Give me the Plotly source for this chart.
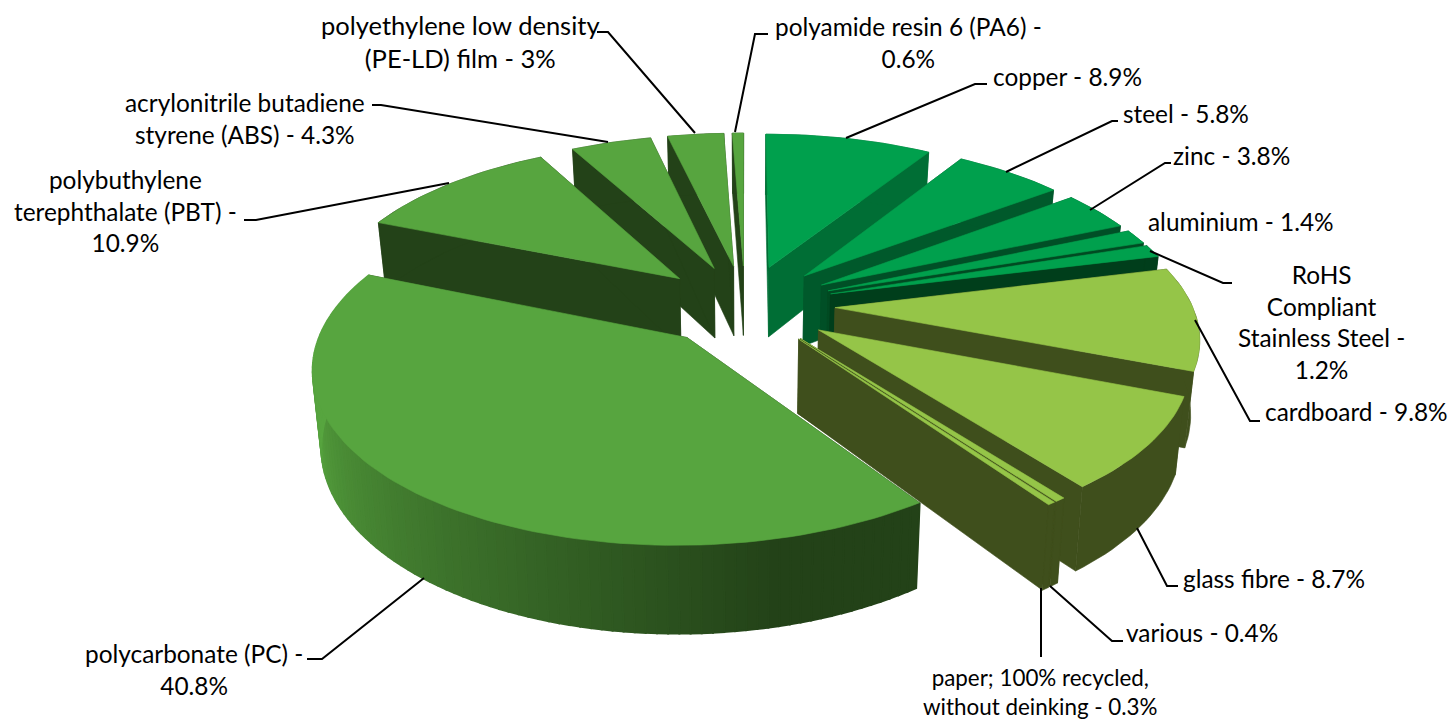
import math
import plotly.graph_objects as go

# ---- data -------------------------------------------------------------
materials = ["copper", "steel", "zinc", "aluminium", "RoHS Compliant Stainless Steel",
             "cardboard", "glass fibre", "various", "paper; 100% recycled, without deinking",
             "polycarbonate (PC)", "polybuthylene terephthalate (PBT)",
             "acrylonitrile butadiene styrene (ABS)", "polyethylene low density (PE-LD) film",
             "polyamide resin 6 (PA6)"]
shares = [8.9, 5.8, 3.8, 1.4, 1.2, 9.8, 8.7, 0.4, 0.3, 40.8, 10.9, 4.3, 3.0, 0.6]
label_texts = ["copper - 8.9%", "steel - 5.8%", "zinc - 3.8%", "aluminium - 1.4%",
               "RoHS<br>Compliant<br>Stainless Steel -<br>1.2%", "cardboard - 9.8%",
               "glass fibre - 8.7%", "various - 0.4%",
               "paper; 100% recycled,<br>without deinking - 0.3%",
               "polycarbonate (PC) -<br>40.8%", "polybuthylene<br>terephthalate (PBT) -<br>10.9%",
               "acrylonitrile butadiene<br>styrene (ABS) - 4.3%",
               "polyethylene low density<br>(PE-LD) film - 3%",
               "polyamide resin 6 (PA6) -<br>0.6%"]

# ---- styling ----------------------------------------------------------
top_colors = ["#00A04D"] * 5 + ["#95C548"] * 4 + ["#57A53F"] * 5
wall_colors = ["#006E35", "#00592B", "#004F26", "#004A22", "#003E1B"] + ["#3F4F1C"] * 4 + ["#234218"] * 5
label_pos = [(1067, 76), (1186, 113), (1231, 155), (1241, 221), (1321, 322), (1356, 411),
             (1274, 578), (1202, 632), (1040, 692), (194, 669), (125, 211), (245, 118),
             (460, 41), (908, 42)]
label_sizes = [24.4] * 8 + [22.4] + [24.4] * 3 + [25.5, 24.4]
leaders = [
    [(846, 138), (975, 84), (987, 84)],
    [(1006, 172), (1112, 121), (1118, 121)],
    [(1090, 210), (1165, 163), (1171, 163)],
    None,
    [(1150, 251), (1223, 283), (1232, 283)],
    [(1195, 320), (1250, 421), (1260, 421)],
    [(1137, 528), (1167, 586), (1178, 586)],
    [(1050, 586), (1112, 641), (1123, 641)],
    [(1041, 588), (1041, 657)],
    [(424, 578), (322, 659), (307, 659)],
    [(449, 183), (256, 220), (244, 220)],
    [(608, 142), (381, 105), (372, 105)],
    [(695, 133), (608, 32), (597, 32)],
    [(735, 132), (755, 34), (768, 34)],
]

# ---- projection of the exploded pie -----------------------------------
CX, CY, RX, RY, EXPLODE, HEIGHT, TILT, PERSP = 745, 305, 357, 366, 90, 72, 0.4496, 0.000422
CONVERGE = 0.02  # lower rim converges towards the pie's axis


def project(x, y, drop=0.0):
    s = 1 / (1 + PERSP * y)
    k = 1 - CONVERGE if drop else 1
    return CX + x * s * k, CY - TILT * y * s + drop * s


def polar(t):
    r = math.radians(t)
    return math.sin(r), math.cos(r)


fig = go.Figure()


def polygon(pts, color, seam=0.6):
    xs, ys = zip(*pts)
    fig.add_trace(go.Scatter(x=list(xs) + [xs[0]], y=list(ys) + [ys[0]], mode="lines", fill="toself",
                             fillcolor=color, line=dict(color=color, width=seam),
                             hoverinfo="skip", showlegend=False))


def mix(c1, c2, f):
    a = [int(c1[i:i + 2], 16) for i in (1, 3, 5)]
    b = [int(c2[i:i + 2], 16) for i in (1, 3, 5)]
    return "#" + "".join(f"{round(p + (q - p) * f):02X}" for p, q in zip(a, b))


total = sum(shares)
spans = []
start = 0.0
for v in shares:
    spans.append((start, start + v / total * 360))
    start += v / total * 360

draw_order = [13, 12, 11, 0, 1, 10, 2, 3, 4, 5, 6, 7, 8, 9]
for i in draw_order:
    t0, t1 = spans[i]
    mid = (t0 + t1) / 2
    ux, uy = polar(mid)
    ox, oy = ux * EXPLODE, uy * EXPLODE
    n = max(3, int((t1 - t0) / 1.5))
    rim = [(ox + RX * polar(t0 + (t1 - t0) * k / n)[0], oy + RY * polar(t0 + (t1 - t0) * k / n)[1])
           for k in range(n + 1)]
    apex_top = project(ox, oy)
    apex_low = project(ox, oy, HEIGHT)
    wall = wall_colors[i]
    for p in (rim[0], rim[-1]):
        polygon([apex_top, project(*p), project(*p, HEIGHT), apex_low], wall)
    # the outer wall is a single shape unless it carries a gradient
    if i == 9:
        for k in range(n):
            a, b = rim[k], rim[k + 1]
            f = max(0.0, min(1.0, (262 - (t0 + (t1 - t0) * (k + .5) / n)) / 95))
            polygon([project(*a), project(*b), project(*b, HEIGHT), project(*a, HEIGHT)],
                    mix(top_colors[i], wall, f), seam=2)
    else:
        polygon([project(*p) for p in rim] + [project(*p, HEIGHT) for p in reversed(rim)], wall)
    polygon([apex_top] + [project(*p) for p in rim], top_colors[i])

for seg in leaders:
    if seg:
        xs, ys = zip(*seg)
        fig.add_trace(go.Scatter(x=xs, y=ys, mode="lines", line=dict(color="#000000", width=2),
                                 hoverinfo="skip", showlegend=False))

for text, (x, y), size in zip(label_texts, label_pos, label_sizes):
    fig.add_annotation(x=x, y=y, text=text, showarrow=False, xanchor="center", yanchor="middle",
                       align="center", font=dict(family="Lato", size=size, color="#000000"))

fig.update_layout(width=1450, height=720, margin=dict(l=0, r=0, t=0, b=0),
                  paper_bgcolor="white", plot_bgcolor="white", showlegend=False,
                  xaxis=dict(range=[0, 1450], visible=False, fixedrange=True),
                  yaxis=dict(range=[720, 0], visible=False, fixedrange=True))
fig.write_html("out.html", config={"displayModeBar": False},
               post_script="document.body.style.margin='0';document.body.style.overflow='hidden';")
